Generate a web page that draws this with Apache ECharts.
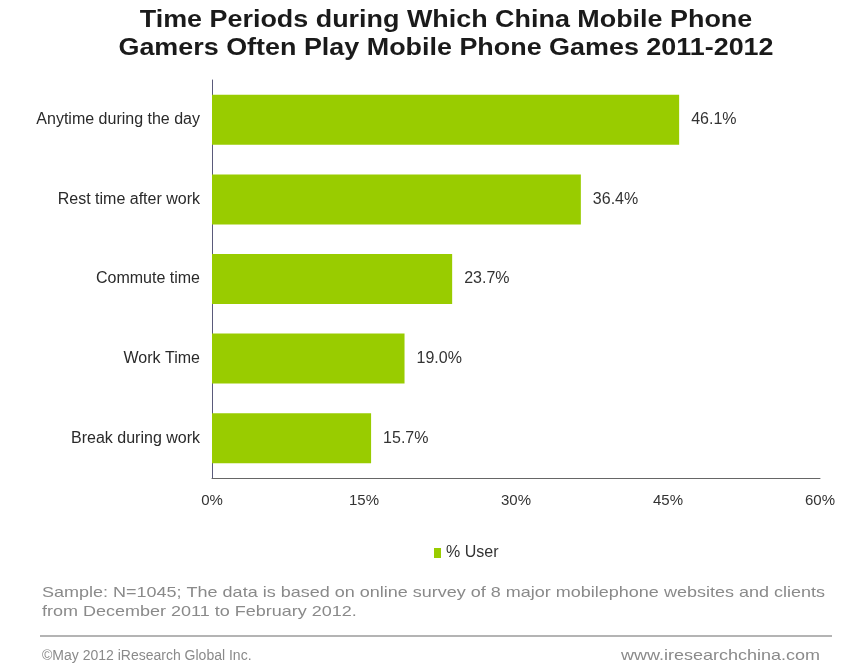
<!DOCTYPE html>
<html>
<head>
<meta charset="utf-8">
<script src="https://cdn.jsdelivr.net/npm/echarts@6/dist/echarts.min.js"></script>
<style>
html,body{margin:0;padding:0;background:#fff;}
#chart{width:842px;height:663px;}
</style>
</head>
<body>
<div id="chart"></div>
<script>
// Survey categories, top to bottom
const categories = ['Anytime during the day', 'Rest time after work', 'Commute time', 'Work Time', 'Break during work'];
// Share of users (%)
const userShare = [46.1, 36.4, 23.7, 19.0, 15.7];
// Horizontal axis ticks (%)
const xTicks = [0, 15, 30, 45, 60];

const font = '"Liberation Sans", Arial, sans-serif';
const chart = echarts.init(document.getElementById('chart'));

// Wide-set text block: drawn at a base size and stretched horizontally
function wideText(x, y, text, size, weight, fill, scaleX, align) {
  return {
    type: 'text',
    x: x,
    y: y,
    scaleX: scaleX,
    style: {
      text: text,
      font: (weight ? weight + ' ' : '') + size + 'px ' + font,
      fill: fill,
      textAlign: align || 'left',
      textVerticalAlign: 'middle'
    }
  };
}

chart.setOption({
  animation: false,
  backgroundColor: '#ffffff',
  legend: {
    data: ['% User'],
    left: 429,
    top: 540,
    icon: 'rect',
    itemWidth: 7,
    itemHeight: 10,
    itemGap: 4,
    textStyle: { fontFamily: font, fontSize: 16, color: '#333' }
  },
  grid: { left: 212, top: 80, width: 608, height: 398 },
  xAxis: {
    type: 'value',
    min: xTicks[0],
    max: xTicks[xTicks.length - 1],
    interval: 15,
    axisLine: { show: true, lineStyle: { color: '#666', width: 1 } },
    axisTick: { show: false },
    splitLine: { show: false },
    axisLabel: {
      formatter: v => v + '%',
      fontFamily: font,
      fontSize: 15,
      color: '#333',
      margin: 15
    }
  },
  yAxis: {
    type: 'category',
    data: categories,
    inverse: true,
    axisLine: { show: true, lineStyle: { color: '#5a5a7a', width: 1 } },
    axisTick: { show: false },
    axisLabel: { fontFamily: font, fontSize: 16, color: '#2a2a2a', margin: 12 }
  },
  series: [{
    name: '% User',
    type: 'bar',
    data: userShare,
    barWidth: 50,
    itemStyle: { color: '#99cc00' },
    label: {
      show: true,
      position: 'right',
      distance: 12,
      formatter: p => p.value.toFixed(1) + '%',
      fontFamily: font,
      fontSize: 16,
      color: '#333'
    }
  }],
  graphic: [
    wideText(446, 21, 'Time Periods during Which China Mobile Phone', 23, 'bold', '#1a1a1a', 1.17, 'center'),
    wideText(446, 49, 'Gamers Often Play Mobile Phone Games 2011-2012', 23, 'bold', '#1a1a1a', 1.17, 'center'),
    wideText(42, 593, 'Sample: N=1045; The data is based on online survey of 8 major mobilephone websites and clients', 15, '', '#8a8a8a', 1.2),
    wideText(42, 612, 'from December 2011 to February 2012.', 15, '', '#8a8a8a', 1.2),
    {
      type: 'line',
      shape: { x1: 40, y1: 636, x2: 832, y2: 636 },
      style: { stroke: '#b4b4b4', lineWidth: 2 }
    },
    wideText(42, 656, '©May 2012 iResearch Global Inc.', 14, '', '#8a8a8a', 1.0),
    wideText(820, 656, 'www.iresearchchina.com', 15, '', '#8a8a8a', 1.2, 'right')
  ]
});
</script>
</body>
</html>
